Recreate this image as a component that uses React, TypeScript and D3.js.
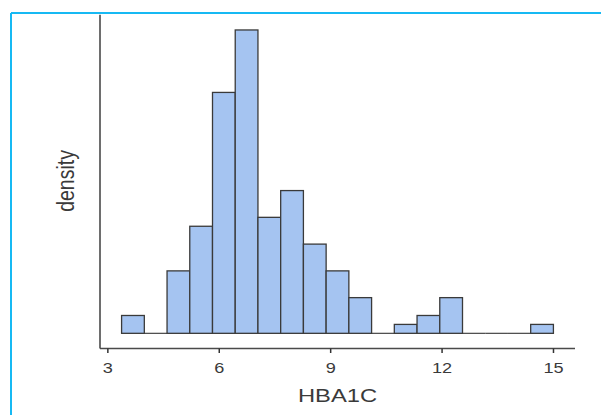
import React from "react";
import * as d3 from "d3";

const binStart = 3.37;
const binWidth = 0.612;
const counts = [2, 0, 7, 12, 27, 34, 13, 16, 10, 7, 4, 0, 1, 2, 4, 0, 0, 0, 1];
const xTicks = [3, 6, 9, 12, 15];
const xTitle = "HBA1C";
const yTitle = "density";

const W = 601;
const H = 415;
const panel = { left: 100, right: 575, top: 14.8, bottom: 348.5 };
const FONT = "'Liberation Sans', Arial, Helvetica, sans-serif";
const STRETCH = 1.25;

export default function App() {
  const bins = counts.map((c, i) => ({
    x0: binStart + i * binWidth,
    x1: binStart + (i + 1) * binWidth,
    count: c,
  }));
  const xmin = bins[0].x0;
  const xmax = bins[bins.length - 1].x1;
  const xpad = (xmax - xmin) * 0.05;
  const ymax = d3.max(counts) as number;
  const ypad = ymax * 0.05;

  const x = d3.scaleLinear().domain([xmin - xpad, xmax + xpad]).range([panel.left, panel.right]);
  const y = d3.scaleLinear().domain([-ypad, ymax + ypad]).range([panel.bottom, panel.top]);

  const baseline = y(0);

  return (
    <svg
      width={W}
      height={H}
      style={{ position: "absolute", left: 0, top: 0, background: "#fff" }}
    >
      <line x1={11} y1={13} x2={W} y2={13} stroke="#17b9f3" strokeWidth={2} />
      <line x1={11} y1={13} x2={11} y2={H} stroke="#17b9f3" strokeWidth={2} />

      {bins.map((b, i) =>
        b.count === 0 ? (
          <line
            key={"z" + i}
            x1={x(b.x0)}
            x2={x(b.x1)}
            y1={baseline}
            y2={baseline}
            stroke="#444"
            strokeWidth={1.2}
          />
        ) : null
      )}
      {bins.map((b, i) =>
        b.count > 0 ? (
          <rect
            key={i}
            x={x(b.x0)}
            y={y(b.count)}
            width={x(b.x1) - x(b.x0)}
            height={baseline - y(b.count)}
            fill="#a5c4f1"
            stroke="#3a3a3a"
            strokeWidth={1.3}
          />
        ) : null
      )}

      <line x1={panel.left} y1={panel.top} x2={panel.left} y2={panel.bottom} stroke="#4a4a4a" strokeWidth={1.6} />
      <line x1={panel.left} y1={panel.bottom} x2={panel.right} y2={panel.bottom} stroke="#4a4a4a" strokeWidth={1.6} />

      {xTicks.map((t) => (
        <g key={t}>
          <line x1={x(t)} x2={x(t)} y1={panel.bottom} y2={panel.bottom + 4.5} stroke="#333" strokeWidth={1.5} />
          <text
            transform={`translate(${x(t)},${372.5}) scale(${STRETCH},1)`}
            textAnchor="middle"
            fontFamily={FONT}
            fontSize={14.5}
            fill="#3a3a3a"
          >
            {t}
          </text>
        </g>
      ))}

      <text
        transform={`translate(${(panel.left + panel.right) / 2},${401.5}) scale(${STRETCH},1)`}
        textAnchor="middle"
        fontFamily={FONT}
        fontSize={19}
        fill="#3a3a3a"
      >
        {xTitle}
      </text>
      <text
        transform={`translate(${74},${181}) rotate(-90) scale(1,1.18)`}
        textAnchor="middle"
        fontFamily={FONT}
        fontSize={19.5}
        fill="#3a3a3a"
      >
        {yTitle}
      </text>
    </svg>
  );
}
